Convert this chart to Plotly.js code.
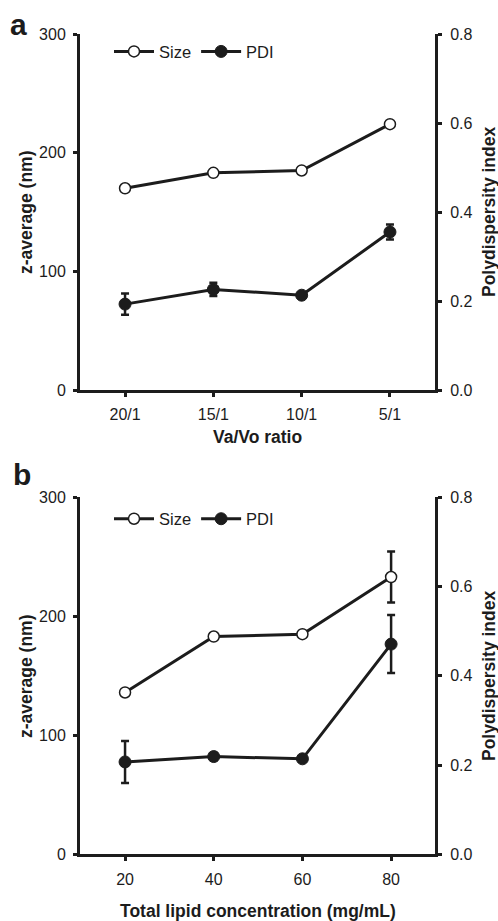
<!DOCTYPE html>
<html>
<head>
<meta charset="utf-8">
<script src="https://cdn.plot.ly/plotly-3.0.1.min.js"></script>
<style>html,body{margin:0;padding:0;background:#fff;}#chart{width:498px;height:921px;}</style>
</head>
<body>
<div id="chart"></div>
<script>
// Panel a: Va/Vo ratio
const ratioLabels = ['20/1', '15/1', '10/1', '5/1'];
const sizeA = [170, 183, 185, 224];
const sizeAErr = [2, 2, 2, 2];
const pdiA = [0.193, 0.226, 0.213, 0.355];
const pdiAErr = [0.024, 0.015, 0.005, 0.017];

// Panel b: Total lipid concentration
const lipidConc = [20, 40, 60, 80];
const sizeB = [136, 183, 185, 233];
const sizeBErr = [2, 2, 2, 21.5];
const pdiB = [0.207, 0.219, 0.214, 0.471];
const pdiBErr = [0.047, 0.008, 0.006, 0.065];

const leftTicks = [0, 100, 200, 300];
const rightTicks = [0, 0.2, 0.4, 0.6, 0.8];
const rightTickText = ['0.0', '0.2', '0.4', '0.6', '0.8'];

const INK = '#1c1c1c';
const W = 498, H = 921;
const FONT = 'Liberation Sans, Arial, sans-serif';

function sizeTrace(x, y, err, xa, ya, leg) {
  return {
    x: x, y: y, xaxis: xa, yaxis: ya, type: 'scatter', mode: 'lines+markers',
    name: 'Size', legend: leg,
    line: {color: INK, width: 3},
    marker: {symbol: 'circle', size: 11, color: '#ffffff', line: {color: INK, width: 1.5}},
    error_y: {type: 'data', array: err, visible: true, color: INK, thickness: 2.5, width: 4}
  };
}
function pdiTrace(x, y, err, xa, ya, leg) {
  return {
    x: x, y: y, xaxis: xa, yaxis: ya, type: 'scatter', mode: 'lines+markers',
    name: 'PDI', legend: leg,
    line: {color: INK, width: 3},
    marker: {symbol: 'circle', size: 12, color: INK, line: {color: INK, width: 1}},
    error_y: {type: 'data', array: err, visible: true, color: INK, thickness: 2.5, width: 4}
  };
}

const data = [
  pdiTrace(ratioLabels, pdiA, pdiAErr, 'x', 'y2', 'legend'),
  sizeTrace(ratioLabels, sizeA, sizeAErr, 'x', 'y', 'legend'),
  pdiTrace(lipidConc, pdiB, pdiBErr, 'x2', 'y4', 'legend2'),
  sizeTrace(lipidConc, sizeB, sizeBErr, 'x2', 'y3', 'legend2')
];

const xDom = [80 / W, 435 / W];
const domA = [1 - 390 / H, 1 - 34 / H];
const domB = [1 - 854.3 / H, 1 - 497.3 / H];

const tickFont = {family: FONT, size: 16, color: INK};
const axCommon = {
  showline: true, linecolor: INK, linewidth: 3, ticks: 'outside', ticklen: 4,
  tickwidth: 3, tickcolor: INK, showgrid: false, zeroline: false, tickfont: tickFont,
  fixedrange: true
};

function leftAxis(dom, anchor) {
  return Object.assign({}, axCommon, {domain: dom, anchor: anchor, range: [0, 300],
    tickvals: leftTicks, ticklabelstandoff: 4});
}
function rightAxis(ov, anchor) {
  return Object.assign({}, axCommon, {overlaying: ov, anchor: anchor, side: 'right', range: [0, 0.8],
    tickvals: rightTicks, ticktext: rightTickText, ticklabelstandoff: 5});
}

const titleFont = {family: FONT, size: 17.5, color: INK, weight: 'bold'};
function ann(text, x, y, opts) {
  return Object.assign({text: text, x: x / W, y: 1 - y / H, xref: 'paper', yref: 'paper',
    showarrow: false, xanchor: 'center', yanchor: 'middle', font: titleFont}, opts || {});
}

const legendCommon = {orientation: 'h', xanchor: 'left', yanchor: 'middle', itemwidth: 40,
  bgcolor: 'rgba(0,0,0,0)', font: {family: FONT, size: 16.5, color: INK}, traceorder: 'reversed'};

const layout = {
  width: W, height: H,
  margin: {l: 0, r: 0, t: 0, b: 0},
  paper_bgcolor: '#ffffff', plot_bgcolor: 'rgba(0,0,0,0)',
  font: {family: FONT, color: INK},
  xaxis: Object.assign({}, axCommon, {domain: xDom, anchor: 'y', type: 'category',
    categoryorder: 'array', categoryarray: ratioLabels, range: [-0.51, 3.51], ticklabelstandoff: 4}),
  yaxis: leftAxis(domA, 'x'),
  yaxis2: rightAxis('y', 'x'),
  xaxis2: Object.assign({}, axCommon, {domain: xDom, anchor: 'y3', range: [9.84, 89.9],
    tickvals: lipidConc, ticklabelstandoff: 4}),
  yaxis3: leftAxis(domB, 'x2'),
  yaxis4: rightAxis('y3', 'x2'),
  legend: Object.assign({}, legendCommon, {x: 109 / W, y: 1 - 51.7 / H}),
  legend2: Object.assign({}, legendCommon, {x: 109 / W, y: 1 - 519 / H}),
  annotations: [
    ann('a', 18, 24, {font: {family: FONT, size: 30, color: INK, weight: 'bold'}}),
    ann('b', 22, 474, {font: {family: FONT, size: 30, color: INK, weight: 'bold'}}),
    ann('z-average (nm)', 26, 212, {textangle: -90}),
    ann('Polydispersity index', 489, 212, {textangle: -90}),
    ann('Va/Vo ratio', 257.5, 437),
    ann('z-average (nm)', 26, 676, {textangle: -90}),
    ann('Polydispersity index', 489, 676, {textangle: -90}),
    ann('Total lipid concentration (mg/mL)', 257.5, 911)
  ]
};

Plotly.newPlot('chart', data, layout, {displayModeBar: false, staticPlot: true});
</script>
</body>
</html>
